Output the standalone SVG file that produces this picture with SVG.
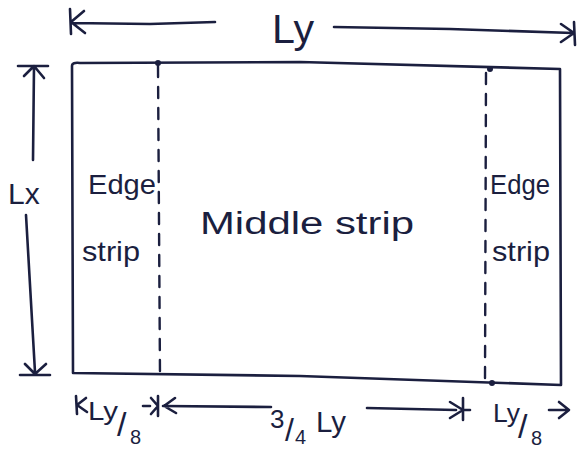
<svg xmlns="http://www.w3.org/2000/svg" width="579" height="452" viewBox="0 0 579 452">
<style>
.ln{fill:none;stroke:#1b1f3f;stroke-width:2.6;stroke-linecap:round;stroke-linejoin:round}
.ds{fill:none;stroke:#1b1f3f;stroke-width:2.4;stroke-dasharray:11 10;stroke-linecap:round}
.t{font-family:"Liberation Sans","DejaVu Sans",sans-serif;fill:#1b1f3f}
.dot{fill:#1b1f3f}
</style>
<rect width="579" height="452" fill="#ffffff"/>
<g id="slab">
<path class="ln" d="M72,66 Q72,62 80,63 L300,62 L560,69 L561,385 M72,66 L73,373 L300,376 L561,385"/>
<circle class="dot" cx="158" cy="63" r="3"/>
<circle class="dot" cx="490" cy="69" r="3"/>
<circle class="dot" cx="492" cy="383" r="3"/>
</g>
<g id="strip-lines">
<path class="ds" d="M158,66 L160,376"/>
<path class="ds" d="M486,73 L485,382"/>
</g>
<g id="edge-strip-left">
<text class="t" x="88" y="194" font-size="28" textLength="68" lengthAdjust="spacingAndGlyphs">Edge</text>
<text class="t" x="82" y="261" font-size="28" textLength="58" lengthAdjust="spacingAndGlyphs">strip</text>
</g>
<g id="middle-strip">
<text class="t" x="200" y="234" font-size="31" textLength="214" lengthAdjust="spacingAndGlyphs">Middle strip</text>
</g>
<g id="edge-strip-right">
<text class="t" x="490" y="194" font-size="28" textLength="60" lengthAdjust="spacingAndGlyphs">Edge</text>
<text class="t" x="492" y="261" font-size="28" textLength="58" lengthAdjust="spacingAndGlyphs">strip</text>
</g>
<g id="connectors">
<path class="ln" d="M70,9 L71,34 M84,11 L71,22 L85,33 M71,23 L150,24 L215,22"/>
<path class="ln" d="M334,27 L450,29 L573,33 M574,22 L575,45 M561,24 L574,33 L561,42"/>
<path class="ln" d="M18,66 L48,66 M24,76 L34,66 L44,78 M34,66 L33,160"/>
<path class="ln" d="M26,215 L35,372 M20,375 L50,375 M25,364 L35,374 L46,364"/>
<path class="ln" d="M76,396 L77,414 M86,398 L77,405 L87,412"/>
<path class="ln" d="M143,406 L150,406 M158,396 L158,416 M151,398 L158,406 L151,414"/>
<path class="ln" d="M163,406 L271,407 M175,398 L164,406 L176,413"/>
<path class="ln" d="M367,408 L456,410 M463,398 L463,420 M450,402 L463,410 L450,418 M463,410 L470,410"/>
<path class="ln" d="M549,410 L568,410 M559,402 L569,410 L559,418"/>
</g>
<g id="labels">
<text class="t" x="272" y="43" font-size="40" textLength="42" lengthAdjust="spacingAndGlyphs">Ly</text>
<text class="t" x="8" y="204" font-size="30">Lx</text>
<text class="t" x="88" y="420" font-size="26" textLength="30" lengthAdjust="spacingAndGlyphs">Ly</text>
<text class="t" x="117" y="436" font-size="34">/</text>
<text class="t" x="130" y="444" font-size="20">8</text>
<text class="t" x="270" y="428" font-size="26">3</text>
<text class="t" x="285" y="441" font-size="32">/</text>
<text class="t" x="295" y="444" font-size="20">4</text>
<text class="t" x="316" y="432" font-size="30" textLength="30" lengthAdjust="spacingAndGlyphs">Ly</text>
<text class="t" x="493" y="422" font-size="26" textLength="27" lengthAdjust="spacingAndGlyphs">Ly</text>
<text class="t" x="518" y="438" font-size="34">/</text>
<text class="t" x="531" y="445" font-size="20">8</text>
</g>
</svg>
